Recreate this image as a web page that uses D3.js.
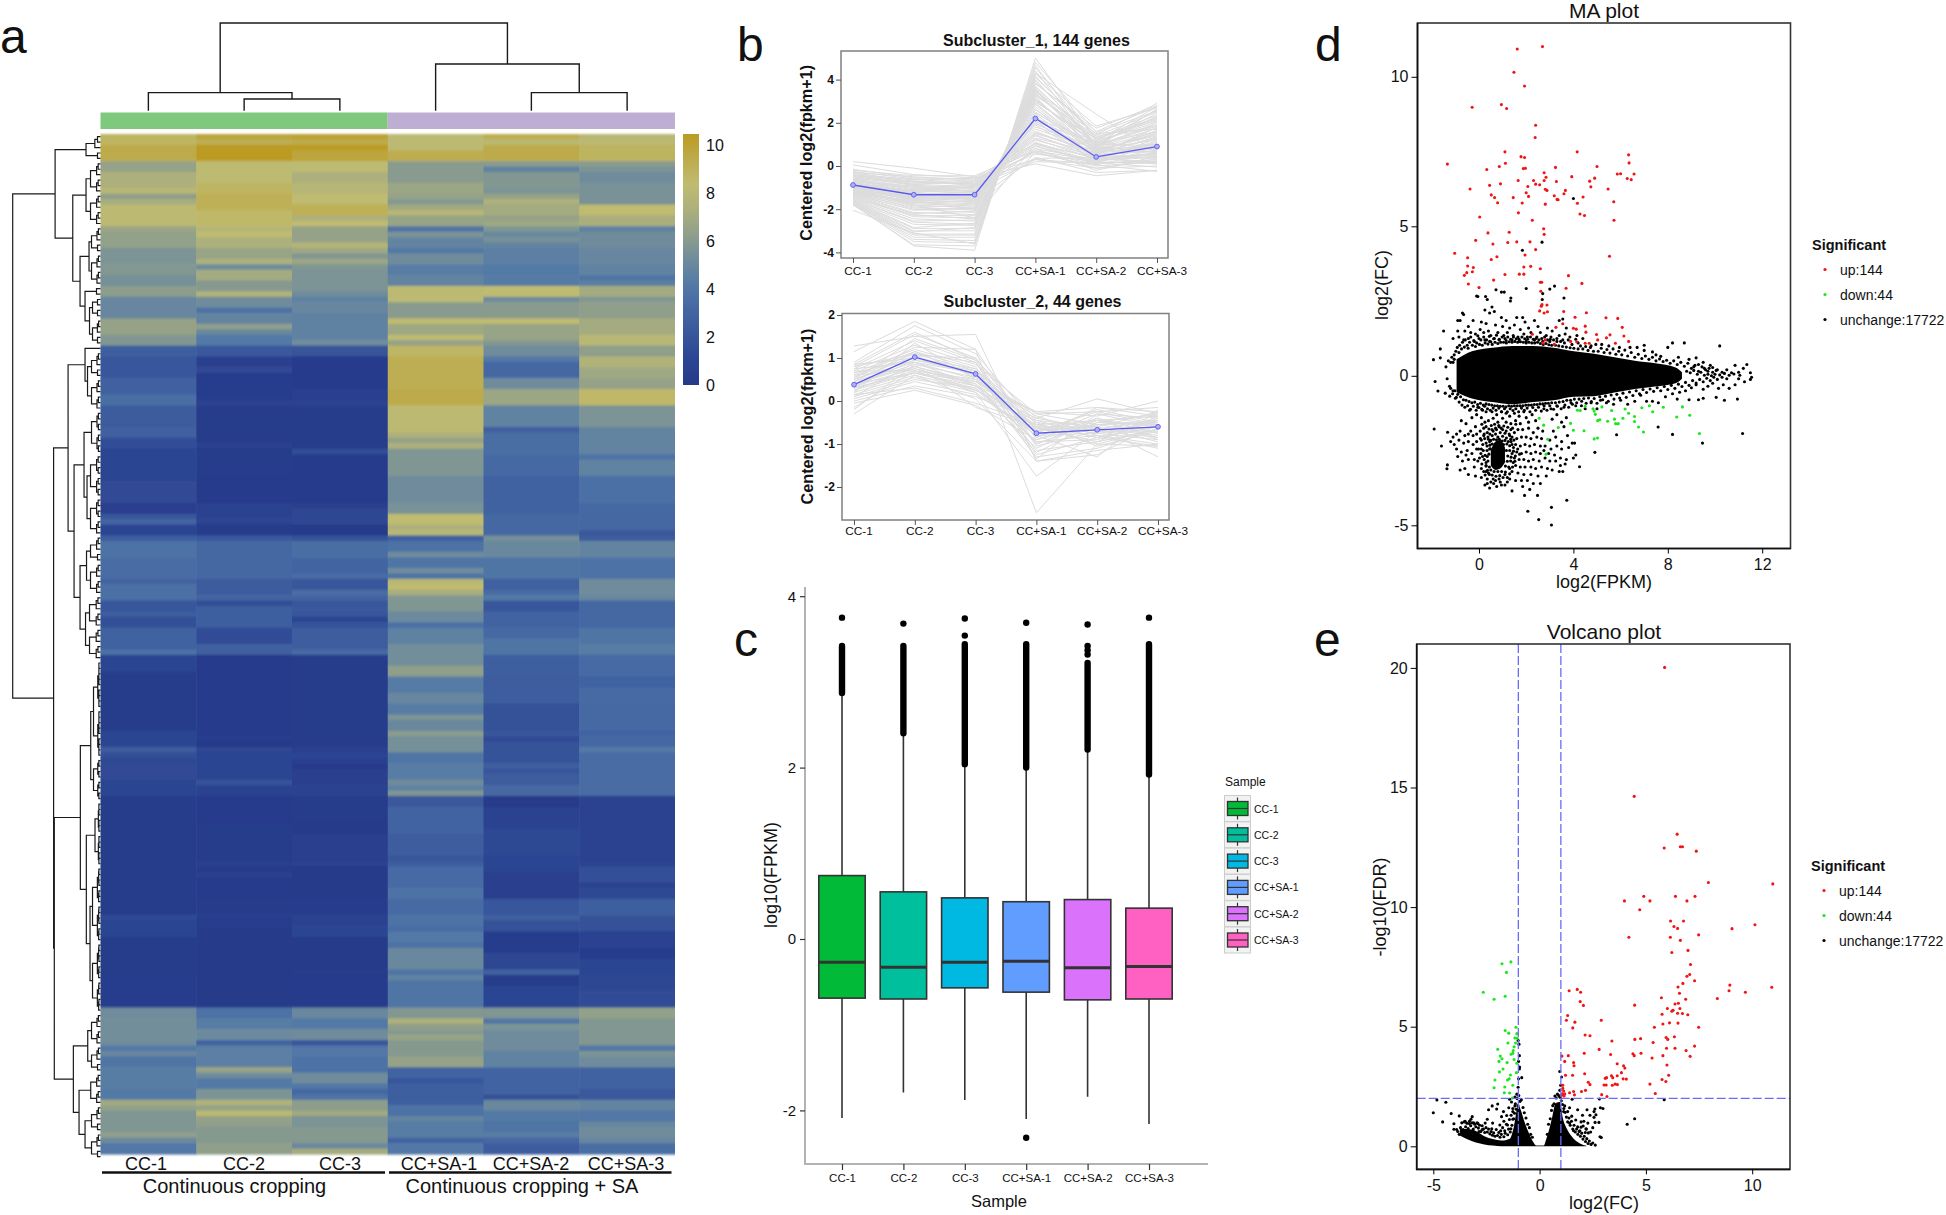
<!DOCTYPE html>
<html><head><meta charset="utf-8">
<script src="https://cdn.jsdelivr.net/npm/d3@7"></script>
<style>html,body{margin:0;padding:0;background:#fff}svg{display:block}text{font-family:"Liberation Sans",Arial,sans-serif;fill:#111}</style>
</head><body><svg id="c" width="1946" height="1215"></svg>
<script>
// ---------- shared categories
const samples = ["CC-1","CC-2","CC-3","CC+SA-1","CC+SA-2","CC+SA-3"];
const groupLabels = ["Continuous cropping","Continuous cropping + SA"];
const legendLabels = ["up:144","down:44","unchange:17722"];
// ---------- a: heatmap, per column [end row (exclusive), value] runs
const rowCount = 188;
const heatCC1 = [2,8.4,5,9,7,6.2,10,7,11,7.6,12,6,13,6.8,17,7.8,18,6.4,21,6.1,24,5.4,26,5.6,28,5.2,30,5.9,34,4.7,37,6.2,39,5.6,41,2.5,45,2,48,2.6,50,3.4,54,2.3,56,2.6,58,1.5,64,1,68,1.3,70,.6,71,2,72,2.8,74,1,75,2.4,78,3.6,82,3.3,83,2.8,86,3.5,88,2,89,2.4,91,1.6,95,2.7,96,3.6,99,1,110,.3,113,1,114,2.3,115,1.6,116,1.2,119,1.3,122,1,144,.2,145,1.2,148,.9,155,.2,161,.4,163,5,167,5.1,168,5,169,4,170,4.7,172,3.7,176,4.2,178,4,179,6.6,180,6.1,184,5.5,185,6,186,4.9,188,3.9];
const heatCC2 = [1,9.3,2,8.8,5,10,9,7.9,11,8.4,14,8.7,17,8.2,18,7.5,19,8,21,7,23,6.3,24,7,25,5,27,6.7,29,5.7,30,7.2,32,5,33,3.6,35,4.6,36,6,37,4.8,39,4,41,2.2,43,.6,44,1.3,49,.4,50,.8,57,.2,58,.5,63,.2,68,.1,70,.7,71,.7,72,1,74,.2,75,2.2,82,3,85,2.3,86,2.8,87,1.5,91,2.5,94,1.4,96,2.6,111,.1,112,.4,113,0,114,1.1,119,.9,120,1.8,122,.7,127,.1,134,.2,135,.5,136,.2,137,.6,141,.1,144,.2,146,.4,161,.05,163,3.6,165,4.2,167,4.9,168,2.8,172,4.3,173,6.3,174,5,176,4,178,5.4,179,7.2,180,6.2,181,7.8,182,6.2,183,6,186,5.7,188,6];
const heatCC3 = [1,9.5,2,9,3,10,5,9.4,7,7.9,9,7,11,7.5,13,8,15,8.7,16,7,17,8,20,6.2,21,7.4,22,6.5,23,5.6,24,6.4,25,5.5,29,5.4,30,5,31,4.4,33,4.7,38,4.4,39,5,41,1.9,47,.1,49,.6,50,.8,58,.2,59,1.5,68,.1,69,.5,72,1.1,74,0,75,1.8,78,3.4,81,2.9,82,3.3,84,2,85,3.3,86,2.8,87,2,88,2.2,89,2,90,1,91,1.8,95,2.4,96,3.2,113,.3,114,.5,115,1,116,.6,117,.1,120,.5,122,.8,127,.2,129,0,134,.5,135,.7,141,.05,144,.4,146,.7,148,1,154,.05,155,.3,161,.1,163,4.8,165,4,167,5,168,2,170,3.9,173,3.6,175,5,176,3.9,177,3,178,3.6,180,5.9,181,6.6,183,5.4,186,5.7,187,4.8,188,6.7];
const heatSA1 = [3,7.8,5,8.9,9,5.8,11,6.4,12,6.2,13,5.7,14,6.6,15,7.5,17,6.3,18,3.8,19,5.4,21,4.6,22,4,24,5,26,4.2,28,4.6,31,7.8,34,5.8,35,8,37,6.5,38,7.9,39,6.2,41,8.3,47,8.8,50,9,55,7.8,56,7,57,6.2,58,7,63,5.5,68,5,70,5.3,72,8,73,7,74,7.6,75,2.6,77,3.6,78,5,80,3.7,81,5,82,3.8,83,7.6,84,8,85,6.8,86,5.6,88,5.5,90,4.9,91,3.5,94,4.4,98,5.1,100,6,103,4.1,105,4.7,107,4.2,108,5.4,110,4.8,111,5.8,114,5.2,116,3.8,119,4.2,120,5,121,4.4,122,5.5,124,2.2,129,2.8,133,2.4,134,2,135,2.4,139,3.2,141,3.6,144,3.2,146,3.6,147,3.3,149,4,150,3.6,154,4.8,155,3.7,156,4.5,161,3.8,163,5.6,164,7,165,6,166,5.7,167,6.3,170,5.7,172,6.2,174,2.8,175,2,179,2.5,181,3.6,182,4.6,185,4.2,186,2.8,188,3.9];
const heatSA2 = [1,8.8,2,7.7,5,9,6,5.8,7,4.5,10,5.6,11,5.4,12,6.2,13,7,15,6.7,16,6.2,17,6.5,18,5.5,19,4.8,20,5.2,21,4.6,24,4.3,26,4,28,4.1,30,8,31,5,34,5.8,35,8,38,6.3,39,5.6,41,5,42,3.9,45,3,47,5,50,6.4,54,4.5,55,2.6,59,3.4,63,3.1,70,2.7,74,3,75,5.2,78,4.8,82,3.8,84,2.6,85,3.2,86,4,88,2,91,2.8,93,3.1,96,3.8,100,2.5,105,2.4,110,1.7,111,2,112,1.3,116,1.8,117,2.5,118,1.9,120,2.3,122,3.1,124,0,128,.7,133,1.2,136,1,141,.5,144,2,145,2.5,147,1.7,151,.4,154,1.1,155,2.6,157,.3,161,1,163,5.5,164,3.9,165,5.4,169,5,172,4.5,177,2.8,178,1.7,180,4.8,182,4,184,3.7,185,4.2,186,3,188,2.4];
const heatSA3 = [1,7.6,2,7.8,5,8.5,6,5.8,7,5.4,9,5,13,5.3,15,8,17,6.9,18,4.4,21,5,24,4.7,26,4.5,27,3.8,28,4.3,30,6.7,31,5.6,34,6,37,6.7,39,7.6,41,6,43,7.2,45,6.5,47,6.2,50,8.2,54,5.4,59,4.6,60,3.6,63,4.5,68,3.5,70,3.1,73,3,74,2.2,75,2.4,78,4.6,82,3.6,85,5,86,4.7,91,3,94,3.8,96,4.2,100,3.2,102,2.7,105,3.2,110,3.1,111,2.8,113,3,114,4,122,3.3,128,.8,134,.7,135,.9,138,1.6,139,.8,141,1.2,144,2.5,147,1.7,150,.7,152,.4,155,.9,158,1.1,161,1.4,163,6.1,168,5.6,169,3.9,170,5.4,172,5,176,2.7,178,2.2,180,4.6,182,3.9,183,4.7,185,5,186,4.7,188,3.4];
const heatColumns = [heatCC1,heatCC2,heatCC3,heatSA1,heatSA2,heatSA3];
const heatTicks = [0,2,4,6,8,10];
const heatStopValues = [0,1,2,3,4,5,6,7,8,9,10];
const heatStopColors = ["#253a8a","#2c4592","#38569b","#4467a3","#5379a6","#6f8c9c","#8f9f8a","#adb07c","#bfbb70","#bdab4c","#bb9b22"];
// dendrogram: [height, childA, childB]; a bare number is a run of that many rows
const rowTree = [88,
  [45.5,[14.5,5],[27.8,[14.5,[10,6],[10,6]],[20.5,[11.5,[9,5],[9,6]],[15.5,[4,2],[11,[8,4],[8,5]]]]]],
  [47,[32.5,[15.5,1,[13,[9,5],[9,6]]],[26.5,[16.5,[9,8],[13.5,[10,8],[10,7]]],[20.5,[14,[10,5],[10,6]],[15,[11,6],[11,6]]]]],
      [46.3,[20.2,[9.8,[7,18],[7,8]],[14.2,[5.5,12],[10.5,[8,14],[8,13]]]],[27.2,[12.8,[9,6],[9,5]],[21.5,[9.8,6],[15.5,[9,5],[9,5]]]]]]];
const colTree = [90,[18.5,0,[12,1,2]],[48,3,[18.5,4,5]]];
// ---------- b: cluster profiles
const clusterMean1 = [-.88,-1.33,-1.33,2.2,.42,.9];
const clusterMean2 = [.38,1.02,.63,-.75,-.67,-.6];
const clusterLines1 = [[.2,-.1,-.5,.3,.1,.3],[.05,-.4,-.55,.1,-.45,-.2],[-.15,-.55,-.6,.55,.2,.1],[-.2,-.45,-.45,.7,.25,.4],[-.25,-.6,-.7,.8,.3,.55],[-.3,-.5,-.65,.95,.1,.3],[-.3,-.75,-.75,.65,-.1,.25],[-.35,-.65,-.55,1.05,.35,.6],[-.4,-.7,-.8,.9,.2,.75],[-.4,-.85,-.7,1.2,.45,.5],[-.45,-.75,-.85,1.1,.15,.2],[-.5,-.8,-.8,1.3,.6,.85],[-.5,-.9,-1,1.05,.05,.65],[-.55,-.85,-.95,1.4,.5,.35],[-.6,-1,-.9,1.5,.7,1],[-.6,-.95,-1.05,1.25,.3,.45],[-.65,-1.1,-1,1.6,.55,.7],[-.65,-1.05,-1.15,1.45,.35,1.15],[-.7,-1.15,-1.1,1.7,.8,.85],[-.7,-1,-1.2,1.9,.25,.55],[-.75,-1.2,-1.15,1.55,.6,1.3],[-.75,-1.25,-1.3,2,.45,.8],[-.8,-1.15,-1.25,1.8,.9,.6],[-.8,-1.3,-1.2,2.1,.15,1],[-.85,-1.25,-1.35,1.95,.75,1.45],[-.85,-1.35,-1.3,2.25,.5,.7],[-.9,-1.3,-1.4,2.4,.4,1.1],[-.9,-1.45,-1.4,2.05,1.05,1.6],[-.95,-1.4,-1.5,2.5,.65,.9],[-.95,-1.5,-1.45,2.3,.3,1.25],[-1,-1.45,-1.55,2.6,.85,1.75],[-1,-1.55,-1.5,2.2,1.15,.75],[-1.05,-1.5,-1.6,2.75,.55,1.35],[-1.05,-1.6,-1.65,2.45,.95,1.9],[-1.1,-1.55,-1.7,2.9,.7,1.5],[-1.1,-1.7,-1.6,2.65,.35,1.05],[-1.15,-1.65,-1.75,3,1.1,2.05],[-1.15,-1.75,-1.85,2.85,.6,1.65],[-1.2,-1.7,-1.8,3.1,.8,1.2],[-1.2,-1.85,-1.9,2.95,1.25,2.2],[-1.25,-1.8,-1.95,3.2,.5,1.8],[-1.25,-1.95,-2,3.05,1,.95],[-1.3,-1.9,-2.05,3.3,1.3,2.35],[-1.3,-2.05,-1.95,3.15,.75,1.4],[-1.35,-2,-2.15,3.4,.9,2],[-1.35,-2.15,-2.25,3.25,1.4,2.5],[-1.4,-2.2,-2.1,3.5,.65,1.55],[-1.4,-2.3,-2.3,3.35,1.1,2.15],[-1.45,-2.35,-2.4,3.6,.85,2.65],[-1.5,-2.25,-2.45,3.45,1.5,1.7],[-1.5,-2.45,-2.55,3.7,1,2.3],[-1.55,-2.55,-2.5,3.55,.6,1.3],[-1.55,-2.6,-2.7,3.85,1.6,2.75],[-1.6,-2.7,-2.75,3.65,1.2,1.9],[-1.6,-2.85,-2.65,4,.95,2.45],[-1.65,-2.9,-2.9,3.8,1.75,2.8],[-1.65,-3,-3,4.15,1.35,2.1],[-1.7,-3.05,-2.85,3.95,1.05,2.6],[-1.7,-3.15,-3.15,4.25,1.85,2.7],[-1.75,-3.2,-3.2,4.4,.8,1.6],[-1.75,-3.3,-3.3,4.1,1.45,2.9],[-1.75,-3.4,-3.45,4.55,1.25,2.25],[-1.8,-3.5,-3.55,4.65,.9,1.85],[-2.05,-3.1,-3.6,4.3,2.4,.6],[-1.8,-3.65,-3.7,4.8,1.55,2.55],[-1.75,-3.7,-3.9,5,1.15,2.75],[-1.1,-1.8,-2.4,1,.4,.1],[-1.3,-1.6,-2,.6,0,.2],[-.8,-1.2,-1.6,.4,-.3,-.2],[-1.2,-1.4,-1.3,.8,-.2,.45],[-.9,-.9,-1.2,.3,-.1,0],[-1,-1.1,-.95,.7,.05,-.25],[-.6,-.7,-.9,.2,.15,-.05],[-.45,-.6,-.85,.35,.4,.15]];
const clusterLines2 = [[1.28,1.5,1.55,-1.4,-1.15,-1],[1.15,1.85,1.2,-.9,-.4,-.75],[.9,1.75,1.1,-.55,-.85,-.6],[.85,1.6,.95,-.4,.05,-.3],[.8,1.55,1,-.7,-.55,-.45],[.75,1.4,.9,-1.05,-.7,-.85],[.7,1.3,.85,-.3,-.25,-.55],[.65,1.2,.8,-1.35,-.3,-.4],[.6,1.15,.75,-.45,-.6,-.95],[.55,1.1,.7,-.85,-.15,-.25],[.5,1.05,.6,-.6,-.95,-.65],[.5,.95,.65,-1,-.45,-.35],[.45,.9,.5,-.35,-.8,-1.1],[.4,.85,.55,-.75,-.2,-.5],[.4,.8,.45,-.5,-1.05,-.7],[.35,.75,.4,-1.2,-.5,-.3],[.3,.7,.5,-.65,-.65,-.8],[.3,.65,.35,-.25,-.35,0],[.25,.65,.3,-.95,-.9,-.45],[.2,.6,.25,-.55,-.75,-.6],[.15,.55,.2,-.8,-1.3,-.2],[.1,.5,.3,-1.1,-.4,-.9],[.05,.45,.15,-.7,-.6,-1.3],[0,.35,.1,-.45,-.85,-.4],[-.05,.25,-.1,-.9,-.55,-.75],[-.15,.7,.2,-1.75,-.7,-.5],[-.2,.85,-.15,-.6,-1,-1.05],[-.3,.6,.05,-1.4,-1.25,-.55],[.55,1.25,1.2,-2.6,-1,-.65],[.65,1,.75,-.65,-.45,-.85],[.75,.9,.65,-1.15,-.95,-.35],[.85,1,.6,-.85,-.3,-.6],[.35,.95,.7,-.5,-.7,-.7],[.45,1.15,.55,-.3,-.55,-.5],[.25,.8,.4,-.7,-.25,-.15],[.6,.75,.35,-.95,-.8,-1],[.7,.7,.25,-.4,-.65,-.45],[.2,1.35,.5,-1.3,-1.1,-.65],[.1,.9,.35,-.6,-.6,-.25],[.5,1.45,.95,-1,-.5,-.55],[.3,1.05,1,-.8,-.75,-.9],[.4,.65,.45,-.25,-.15,-.35],[.8,1.1,.9,-1.25,-.85,-1.05],[.15,.3,-.05,-.55,-.45,-.6]];
const profileTicks1 = [-4,-2,0,2,4];
const profileTicks2 = [-2,-1,0,1,2];
const profileYLabel = "Centered log2(fpkm+1)";
// ---------- c: boxplots
const boxColors = ["#00ba38","#00bf9c","#00b9e3","#619cff","#db72fb","#ff61c3"];
const boxQ3 = [.74,.55,.48,.435,.46,.36];
const boxMedian = [-.27,-.33,-.27,-.26,-.335,-.32];
const boxQ1 = [-.69,-.7,-.57,-.62,-.71,-.7];
const whiskerHigh = [2.87,2.4,2.04,2,2.21,1.92];
const whiskerLow = [-2.09,-1.79,-1.88,-2.1,-1.84,-2.16];
const outlierBandTop = [3.42,3.42,3.44,3.44,3.22,3.44];
const outlierExtra = [[0,3.75],[1,3.68],[2,3.74],[2,3.54],[3,3.69],[3,-2.32],[4,3.67],[4,3.42],[4,3.37],[4,3.32],[5,3.75]];
const boxTicks = [-2,0,2,4];
// ---------- d: MA plot
const maTicksX = [0,4,8,12], maTicksY = [-5,0,5,10];
const maUp = [1.62,10.93,2.69,11.01,1.48,10.15,1.93,9.69,-.29,8.98,.95,9.07,1.17,8.94,2.4,8.38,2.38,7.97,-1.34,7.08,1.1,7.49,1.12,7.11,.86,7,.33,6.9,1.78,7.33,1.93,7.3,1.88,6.93,1.97,6.94,4.16,7.49,6.34,7.39,6.36,7.12,5,7,3.24,6.97,2.76,6.79,2.84,6.64,2.76,6.53,2.31,6.53,1.66,6.53,.45,6.37,-.38,6.25,.91,6.42,2.07,6.33,2.4,6.41,2.57,6.39,2.81,6.24,2.88,6.2,3.28,6.5,3.93,6.66,4.69,6.51,4.9,6.61,4.74,6.32,5.86,6.75,6,6.76,6.28,6.6,6.45,6.56,6.57,6.75,5.47,6.25,3.66,6.2,3.6,6.09,3.19,6.02,3.31,5.9,3.35,5.89,4.41,5.98,4.17,5.77,2.81,5.74,1.83,5.78,2,6.12,2.1,6,.52,6.05,.66,5.96,.79,5.79,1.45,5.96,5.71,5.82,1.67,5.45,4.28,5.41,4.47,5.36,.03,5.31,2.26,5.2,5.72,5.2,2.74,4.92,2.76,4.73,.38,4.78,1.28,4.8,-.14,4.53,.59,4.41,1.22,4.46,1.6,4.48,2.16,4.48,2.4,4.22,-1.03,4.1,1.95,4.04,5.53,4,-.48,3.95,.76,3.98,.52,3.89,-.48,3.67,-.24,3.62,-.28,3.48,-.62,3.36,-.52,3.45,1.1,3.39,1.71,3.4,1.9,3.4,1.9,3.64,2.19,3.66,2.6,3.58,.62,3.2,3.79,3.35,4.36,3.09,-.45,3.07,0,2.95,2.6,3.13,2.66,3.13,3.69,2.93,2.62,2.83,2.67,2.38,2.64,2.33,2.88,2.37,2.57,2.17,2.76,2.1,2.9,2.14,3.59,2.15,4.55,2.11,5.38,1.94,5.88,1.92,4.07,1.96,6.07,1.62,4.5,1.66,3.55,1.74,3.26,1.62,4,1.59,4.12,1.56,4.53,1.46,4.98,1.38,5.55,1.37,5.4,1.27,6.14,1.33,5.03,1.2,6.34,1.15,2.26,1.39,2.81,1.2,2.72,1.1,3.19,1.05,3.88,1.15,4.14,1.14,4.5,1.09,4.67,1.09,5.78,1.09];
const maDown = [2.55,-1.42,2.74,-1.65,3.36,-1.73,3.88,-1.59,4,-1.82,2.91,-2.12,2.84,-2.62,4.45,-1.84,4.17,-1.15,4.29,-1.16,4.5,-1.02,4.83,-1.1,4.88,-1.18,4.93,-1.29,5.21,-1.04,5.62,-1.16,5.03,-1.5,5.12,-1.47,5.45,-1.52,5.74,-1.45,5.79,-1.6,5.9,-1.6,6.1,-1.42,6.19,-1.11,6.34,-1.25,6.59,-1.36,6.59,-1.53,6.76,-1.71,6.97,-1.88,6.9,-1.07,7.22,-1,7.36,-1.2,7.81,-1.05,8.62,-1.04,8.38,-1.38,8.93,-1.32,9.34,-1.93,4.88,-2.11,5.02,-2.08];
const maCoreX = [-.95,-.3,.57,1.43,2.3,3.16,4.02,4.88,5.74,6.6,7.47,8.33,8.6];
const maCoreTop = [.55,.82,.94,1,1,.94,.82,.74,.62,.5,.42,.28,.12];
const maCoreBottom = [-.55,-.76,-.88,-.95,-.88,-.82,-.7,-.68,-.56,-.44,-.36,-.25,-.1];
const maClusterX = [.5,.7,.9,1.1];
const maClusterTop = [-2.5,-2.2,-2.15,-2.4];
const maClusterBottom = [-3,-3.15,-3.1,-2.9];
const maOther = [4,5.93,2.67,4.47,1.84,4.2,2,2.92,.72,2.88,.95,2.8,1.07,2.8,-.1,2.67,-.05,2.65,.28,2.65,.35,2.55,1.35,2.6,1.33,2.5,2.68,2.55,3,2.9,3.2,3,3.6,2.6,2.7,2.75,.25,2.2,.55,2.3,.45,2.1,.65,2.15,-.7,2.1,-.65,2.05,.95,1.95,1.15,1.85,1.6,1.95,1.85,1.95,1.95,1.8,2.35,1.85,-.9,1.85,-.8,1.85,-.45,1.65,-.9,1.5,-1.5,1.5,-.25,1.85,.1,1.8,.3,1.75,.7,1.7,1,1.65,1.3,1.6,1.5,1.7,1.75,1.55,2.1,1.6,2.5,1.65,2.9,1.6,3.1,1.5,3.4,1.85,3.55,1.9,3.7,1.6,-.6,1.5,-.35,1.45,-.15,1.4,.05,1.55,.2,1.45,.4,1.5,.5,1.35,.8,1.45,1.05,1.35,1.2,1.45,1.45,1.35,1.65,1.3,1.9,1.4,2.05,1.3,2.2,1.45,2.45,1.3,2.6,1.45,2.85,1.35,3.05,1.3,3.4,1.35,3.65,1.4,3.85,1.3,4.15,1.35,4.4,1.25,-1.1,1.25,-.85,1.3,-.65,1.2,-.45,1.25,-.2,1.15,0,1.25,.25,1.2,.45,1.15,.65,1.25,.85,1.2,1.15,1.18,1.4,1.2,1.7,1.15,2,1.15,2.35,1.2,2.7,1.15,3,1.15,3.3,1.15,3.55,1.2,4.2,1.1,4.75,1,5.2,1.05,5.5,1,5.95,.95,6.4,.95,6.7,.95,7,.85,7,1.02,7.5,.7,7.35,.8,7.7,.65,8,.95,8.2,1.1,8.7,1.1,8.45,.62,8.9,.55,9.2,.6,9.5,.45,9.8,.35,10.2,1,9.3,.38,9.1,.3,9.55,.25,9.7,.15,9.9,.28,10.1,.2,10.3,.12,10.5,.2,10.7,.1,10.85,.35,11,.12,11.2,.25,11.35,.38,11.5,.1,11.55,-.05,11.5,-.12,11.25,-.2,11,-.1,10.85,-.3,10.6,-.42,10.35,-.3,10.15,-.42,9.9,-.25,9.7,-.35,9.5,-.45,9.2,-.3,9,-.4,8.75,-.5,8.5,-.55,8.2,-.6,8.4,-.78,8.9,-.8,9.3,-.8,9.5,-.75,10.05,-.72,10.4,-.82,10.95,-.78,7.9,-.7,7.6,-.9,7.35,-.85,7.1,-.85,6.85,-.65,6.6,-.85,6.3,-.95,6,-.82,5.7,-.95,5.4,-.9,5.15,-.82,5,-1.1,4.75,-.9,4.5,-1.1,4.35,-.85,4.1,-1,3.9,-.9,3.6,-1.05,3.3,-1,3.05,-1.1,2.75,-1.1,-1.93,.54,-1.64,.9,-1.64,.6,-1.86,-.19,-1.74,-.51,-1.43,-.58,-1.24,-.68,-1.4,.3,-1.3,.5,-1.35,-.1,-1.25,-.35,-1.1,.45,-1.05,.7,-1.1,-.5,-1,-.75,5.83,-1.97,8.2,-1.96,11.17,-1.93,9.47,-2.25,7.59,-1.71,4.91,-2.56,4.26,-3.04,3.72,-4.16,3.07,-4.4,2.07,-4.53,2.53,-4.81,3.07,-4.99,1.93,-4,2.48,-4,-1.9,-1.78,-1.33,-1.89,-1.59,-2.35,-1.36,-3.11,-1.34,-2.98,-.4,-1.15,-.3,-1.4,-.55,-1.6,-.75,-1.5,-.1,-1.3,-.15,-1.7,-.35,-1.85,-.05,-1.05,.1,-1.4,.15,-1.15,.3,-1.2,.25,-1.55,.4,-1.5,.55,-1.2,.6,-1.42,.75,-1.3,.8,-1.55,.95,-1.2,1,-1.42,1.15,-1.25,1.15,-1.55,1.3,-1.35,1.35,-1.6,1.5,-1.25,1.55,-1.5,1.7,-1.35,1.75,-1.6,1.9,-1.2,2,-1.4,2.1,-1.55,2.25,-1.3,2.4,-1.5,3.1,-1.45,3.3,-1.3,3.5,-1.55,3.7,-1.4,3.6,-1.7,3.15,-1.85,2.7,-1.85,2.5,-1.75,2.3,-1.9,2.1,-1.75,1.85,-1.8,1.65,-1.8,1.5,-1.9,1.35,-1.8,.2,-1.75,.05,-1.85,-.1,-1.95,-.25,-2,-.45,-1.95,-.6,-2,-.8,-1.85,-.95,-1.95,-1.1,-2.05,-1.2,-2.2,-1.05,-2.3,-.85,-2.15,-.65,-2.25,-.45,-2.2,-.25,-2.3,-.1,-2.2,.1,-2.15,.2,-2,.35,-1.9,.3,-2.25,1.4,-2.05,1.6,-2.1,1.8,-2.05,2,-2.05,2.2,-2.1,2.45,-2.05,2.65,-2.1,3,-2.15,3.25,-2.05,3.5,-2.2,3.75,-2,3.95,-2.25,4.05,-2.25,3.8,-2.4,3.5,-2.45,3.3,-2.35,3.05,-2.45,2.8,-2.35,2.6,-2.35,2.35,-2.3,2.15,-2.35,1.95,-2.3,1.75,-2.35,1.55,-2.3,1.6,-2.55,1.8,-2.6,2,-2.55,2.2,-2.6,2.4,-2.55,2.6,-2.6,2.75,-2.5,2.95,-2.6,3.2,-2.65,3.45,-2.75,3.7,-2.8,4,-2.75,4.1,-2.65,3.65,-2.95,3.45,-3,3.25,-2.85,3,-2.85,2.8,-2.75,2.55,-2.85,2.3,-2.8,2.1,-2.85,1.9,-2.8,1.7,-2.8,1.5,-2.75,1.55,-3,1.75,-3.05,1.95,-3.05,2.2,-3.05,2.4,-3.1,2.65,-3.05,2.9,-3.1,3.1,-3.15,3.4,-3.2,3.55,-3.2,2.85,-3.35,2.5,-3.35,2.2,-3.3,1.9,-3.3,1.65,-3.25,1.4,-3.2,1.3,-3.45,1.55,-3.5,1.8,-3.5,2.05,-3.5,2.3,-3.6,2.6,-3.6,2.15,-3.8,1.85,-3.7,1.4,-3.85,1.1,-3.65,.9,-3.55,.75,-3.7,.45,-3.75,.25,-3.65,.35,-3.45,.1,-3.4,-.15,-3.35,-.45,-3.3,-.6,-3.1,-.8,-3.15,-.7,-2.85,-.9,-2.7,-.75,-2.55,-.5,-2.5,-.3,-2.6,-.1,-2.45,.1,-2.45,-.2,-2.8,-.45,-2.8,-.2,-3.05,-.05,-2.85,.15,-2.7,.3,-2.9,.1,-3.1,.3,-3.2,-.55,-2.65,-.95,-2.45,.45,-2.2,.55,-1.8,.7,-1.75,.85,-1.7,1,-1.8,1.15,-1.85,1.3,-2,1.4,-2.3,1.4,-2.6,1.45,-2.9,1.3,-3.1,1.1,-3.3,.85,-3.45,.6,-3.45,.4,-3.25,.3,-3,.35,-2.7,.45,-2.45];
const maEdgeTop = [-1.2,.45,-1.15,.62,-1.05,.55,-.98,.82,-.92,.95,-.85,.78,-.82,1.02,-.74,.9,-.7,1.12,-.62,.96,-.58,1.2,-.5,1.02,-.46,.92,-.4,1.12,-.35,1.3,-.28,1.02,-.22,1.18,-.15,.98,-.1,1.1,-.05,1.34,.02,1.05,.08,1.2,.14,1.02,.2,1.3,.26,1.1,.32,1.2,.38,1.06,.44,1.32,.5,1.14,.56,1.05,.62,1.24,.68,1.12,.74,1.36,.8,1.08,.86,1.22,.92,1.12,.98,1.3,1.04,1.12,1.1,1.25,1.16,1.1,1.22,1.3,1.28,1.14,1.34,1.22,1.4,1.12,1.46,1.3,1.52,1.15,1.58,1.24,1.64,1.12,1.7,1.22,1.76,1.14,1.82,1.3,1.88,1.12,1.94,1.24,2,1.1,2.06,1.22,2.12,1.12,2.18,1.3,2.24,1.1,2.3,1.22,2.36,1.1,2.42,1.25,2.48,1.12,2.54,1.2,2.6,1.08,2.66,1.25,2.72,1.05,2.78,1.3,2.84,1.08,2.9,1.2,2.96,1.04,3.02,1.22,3.08,1.02,3.16,1.2,3.24,1.02,3.3,1.25,3.38,1,3.46,1.15,3.54,.98,3.62,1.1,3.7,.96,3.78,1.2,3.86,.94,3.94,1.05,4.02,.92,4.1,1.22,4.2,.9,4.3,1,4.4,.9,4.52,.98,4.62,.85,4.72,.95,4.85,.82,4.95,1.05,5.05,.82,5.18,.92,5.3,.78,5.42,.88,5.55,.76,5.68,.9,5.8,.72,5.92,.82,6.05,.7,6.18,.86,6.3,.66,6.45,.78,6.6,.62,6.75,.72,6.9,.58,7.05,.66,7.2,.55,7.35,.62,7.5,.5,7.65,.56,7.8,.48,7.95,.52,8.1,.42,8.25,.5,8.4,.38,8.55,.45,8.7,.32,8.85,.42,9,.25,9.15,.35,9.3,.15,9.45,.3,9.6,.2,9.75,.25,9.9,.12,10.05,.18,8.8,.15,8.95,.1,9.1,.18,9.25,.05,9.4,.12,9.55,.02,9.7,.05,9.85,0,10,.05,10.2,.03,10.4,.08,10.6,.02,10.8,.06,11.05,.02];
const maEdgeBottom = [-1.2,-.42,-1.12,-.6,-1.02,-.5,-.96,-.72,-.9,-.62,-.84,-.88,-.78,-.7,-.72,-.98,-.66,-.8,-.6,-1.05,-.55,-.82,-.48,-1,-.42,-.86,-.36,-1.12,-.3,-.9,-.24,-1.02,-.18,-.88,-.12,-1.15,-.06,-.96,0,-1.06,.06,-.92,.12,-1.12,.18,-.98,.24,-1.02,.3,-.94,.36,-1.1,.42,-.96,.48,-1.15,.54,-.98,.6,-1.08,.66,-1,.72,-1.15,.78,-1,.84,-1.08,.9,-1.02,.96,-1.2,1.02,-1.02,1.08,-1.1,1.14,-1.04,1.2,-1.2,1.26,-1,1.32,-1.1,1.38,-1.02,1.44,-1.16,1.5,-1,1.56,-1.1,1.62,-1,1.68,-1.2,1.74,-1,1.8,-1.08,1.86,-1,1.92,-1.15,1.98,-.98,2.04,-1.08,2.1,-.98,2.16,-1.2,2.22,-.98,2.28,-1.06,2.34,-.96,2.4,-1.15,2.46,-.96,2.52,-1.05,2.58,-.94,2.64,-1.18,2.7,-.94,2.76,-1,2.82,-.92,2.88,-1.15,2.94,-.92,3,-1,3.08,-.9,3.16,-1.12,3.24,-.9,3.32,-1.02,3.4,-.88,3.48,-1.1,3.56,-.86,3.64,-.98,3.72,-.82,3.8,-1.05,3.88,-.82,3.96,-.95,4.04,-.78,4.14,-.9,4.24,-.78,4.34,-1,4.44,-.76,4.54,-.92,4.64,-.74,4.76,-.86,4.88,-.76,5,-.92,5.12,-.7,5.24,-.8,5.36,-.68,5.48,-.85,5.6,-.64,5.72,-.78,5.84,-.62,5.96,-.74,6.1,-.58,6.24,-.72,6.38,-.54,6.52,-.66,6.66,-.5,6.8,-.6,6.95,-.46,7.1,-.56,7.25,-.44,7.4,-.52,7.55,-.4,7.7,-.5,7.85,-.36,8,-.46,8.15,-.32,8.3,-.42,8.45,-.28,8.6,-.36,8.75,-.22,8.9,-.32,9.05,-.16,9.2,-.24,9.35,-.12,9.5,-.2,9.65,-.08,9.8,-.16,9.95,-.05,10.1,-.12,10.3,-.05,10.5,-.1];
const maLowerCore = [.12,-1.62,.22,-1.95,.3,-1.7,.38,-2.05,.42,-1.78,.46,-1.95,.52,-1.66,.56,-2,.6,-1.85,.66,-1.62,.7,-1.95,.74,-1.8,.8,-2.05,.84,-1.66,.9,-1.9,.94,-1.75,1,-2.02,1.05,-1.68,1.1,-1.92,1.16,-2.08,1.22,-1.72,1.28,-1.95,1.34,-2.12,1.42,-1.75,1.48,-2.15,1.56,-1.62,.06,-2.1,.16,-2.3,.24,-2.1,.34,-2.35,.4,-2.12,.46,-2.32,.5,-2.16,.56,-2.28,.62,-2.12,.68,-2.3,.74,-2.14,.8,-2.26,.86,-2.12,.92,-2.32,.98,-2.18,1.04,-2.3,1.1,-2.16,1.18,-2.28,1.24,-2.2,1.3,-2.34,1.36,-2.2,1.46,-2.4,-.02,-2.45,.08,-2.6,.18,-2.5,.26,-2.66,.34,-2.5,.42,-2.62,.48,-2.44,1.16,-2.5,1.22,-2.68,1.3,-2.5,1.36,-2.72,1.46,-2.52,1.54,-2.68,1.64,-2.45,1.72,-2.62,.02,-2.75,.12,-2.95,.22,-2.8,.3,-3.02,.38,-2.85,.44,-3.05,1.12,-3.02,1.2,-2.86,1.26,-3.05,1.34,-2.85,1.42,-3.05,1.52,-2.86,.2,-3.2,.26,-3.32,.36,-3.16,.44,-3.3,.5,-3.15,.56,-3.32,.64,-3.2,.72,-3.36,.8,-3.2,.88,-3.34,.96,-3.2,1.02,-3.4,1.12,-3.22,1.2,-3.4,1.3,-3.28,.5,-3.55,.62,-3.6,.7,-3.5,.95,-3.65,1.2,-3.55,.35,-3.6];
// ---------- e: volcano plot
const voTicksX = [-5,0,5,10], voTicksY = [0,5,10,15,20];
const voUp = [5.88,20.02,4.45,14.63,6.47,13.05,5.86,12.47,6.62,12.52,6.72,12.52,7.37,12.34,7.94,11.03,10.97,10.97,3.99,10.26,4.9,10.45,5.19,10.26,6.39,10.45,6.93,10.26,7.31,10.45,4.71,9.89,6.16,9.42,6.77,9.42,6.32,9.19,6.49,9.11,10.13,9.26,9.05,9.1,4.2,8.74,6.15,8.74,7.48,8.84,6.62,8.61,6.22,8.1,6.98,8.19,7.1,7.6,7.06,7.18,6.93,7.11,7.29,6.92,6.74,6.81,6.51,6.66,8.95,6.74,8.91,6.5,9.68,6.44,10.92,6.65,8.36,6.18,1.77,6.56,1.93,6.44,1.39,6.5,6.58,6.4,5.73,6.21,6.87,6.15,1.91,6.05,2.06,5.89,4.47,5.9,6.37,5.95,6.53,5.98,6.01,5.76,6.6,5.76,6.28,5.69,6.22,5.65,5.76,5.52,6.49,5.56,6.72,5.55,6.97,5.5,1.32,5.47,2.9,5.27,1.26,5.27,1.66,5.19,5.8,5.11,6.11,5.16,6.51,5.15,1.56,4.95,5.4,4.98,7.48,4.98,2.14,4.65,2.37,4.62,4.48,4.47,4.75,4.5,3.4,4.4,5.95,4.55,6.03,4.47,6.34,4.58,5.34,4.34,7.29,4.19,5.97,4.1,6.37,4.1,6.89,4,2.8,4.05,2.1,3.89,3.34,3.84,4.39,3.87,4.45,3.79,4.77,3.89,5.8,3.79,7.08,3.76,5.29,3.69,1.05,3.77,1.35,3.79,1.18,3.55,1.6,3.5,1.62,3.37,3.65,3.45,3.95,3.37,4.01,3.27,5.99,3.4,3.85,3.08,2.12,3.03,6.07,2.97,1.22,2.97,1.55,2.97,3.38,2.95,3.44,2.87,3.09,2.84,3.15,2.87,3.93,2.82,4.08,2.81,3.65,2.95,5.76,2.79,5.94,2.71,2.29,2.68,2.37,2.58,5.19,2.6,3.03,2.56,3.13,2.56,3.42,2.55,3.55,2.6,3.66,2.58,1.09,2.55,2.16,2.34,1.97,2.29,5.44,2.21,1.09,2.42,1.13,2.31,1.07,2.19,1.41,2.24,1.6,2.29,1.64,2.15,1.18,2.19,2.92,2.16,3.17,2.08,1.03,2.13,1.15,2.1];
const voDown = [-2.65,6.44,-2.14,6.15,-1.62,6.27,-1.77,7.63,-1.35,7.71,-1.56,7.27,-1.11,4.98,-1.62,4.84,-1.45,4.73,-1.07,4.71,-1.16,4.53,-1.05,4.52,-1.49,4.32,-1.13,4.32,-1.2,4.16,-1.97,4.06,-1.24,4,-1.26,3.89,-1.34,3.85,-1.85,3.77,-1.77,3.66,-1.91,3.55,-1.53,3.5,-1.2,3.63,-1.07,3.47,-1.72,3.23,-1.89,3.11,-1.09,3.08,-1.37,2.98,-1.51,2.77,-1.43,2.82,-2.1,2.77,-1.26,2.55,-2.14,2.45,-1.64,2.48,-1.66,2.24,-1.41,2.23,-1.28,2.02];
const voOther = [-4.83,1.94,-4.41,1.84,-5,1.4,-4.16,1.37,-4.56,1.02,-3.78,1.27,-4.03,.94,-4.03,.71,-3.9,.7,-3.17,1.24,-3.23,1.13,-2.4,1.53,-2.23,1.69,-1.97,1.77,-2.02,1.56,-1.7,1.45,-1.79,1.24,-2.46,1.13,-2.56,.97,-2.21,.97,-2.25,.73,-1.87,.89,-1.68,1.05,-1.55,1.29,-1.45,1.61,-1.32,1.85,-1.41,1.97,-1.16,2.06,-1.26,1.45,-1.51,.89,-1.35,.73,-1.83,.65,-1.64,.65,-1.26,1.13,-1.16,1.69,-1.07,2.18,-1.01,2.47,-.99,2.82,-.84,2.87,-.94,3.31,-.99,3.55,-.95,3.79,-1.01,4.42,-.97,4.27,-.95,3.23,.95,3.13,1.03,2.9,.99,2.55,.95,2.34,1.53,1.97,2.81,1.98,5.86,1.95,1.18,1.69,1.41,1.61,1.79,1.53,2.23,1.53,2.6,1.56,2.86,1.61,2.98,1.58,2.56,1.45,2.65,1.32,2.56,1.21,2.79,1,2.61,1,2.08,1.05,1.95,1.02,1.7,1.1,1.51,1.26,1.41,.97,1.79,.81,2.18,.73,2.29,.56,1.89,.65,1.6,.65,2.84,.4,2.9,.37,1.32,1.45,1.13,1.45,1.6,.16,1.51,.08,4.12,.92,4.47,1.15,1.95,.8,2.02,1.3,2.37,1.3,2.27,.97,-3.5,1.05,-3.3,.95,-3.1,.98,-2.9,.95,-2.7,.7,-2.85,.62];
const voEdge = [-3.85,.62,-3.78,.5,-3.72,.78,-3.66,.98,-3.6,.7,-3.55,1.02,-3.48,.82,-3.42,.96,-3.36,.74,-3.3,1.05,-3.24,.86,-3.18,.98,-3.12,.72,-3.05,.92,-3,.82,-2.94,.98,-2.88,.76,-2.82,.88,-2.76,.62,-2.7,.86,-2.64,.72,-2.58,.58,-2.52,.78,-2.46,.6,-2.4,.72,-2.34,.52,-2.28,.62,-2.22,.46,-2.16,.56,-2.1,.42,-2.04,.7,-1.98,.45,-1.92,.58,-1.86,.38,-1.8,.5,-1.74,.78,-1.68,.4,-1.62,.55,-1.56,.92,-1.5,.48,-1.46,.72,-1.42,1.12,-1.38,.6,-1.34,1.3,-1.3,.88,-1.26,1.58,-1.22,1.15,-1.18,1.38,-1.14,1.78,-1.1,1.55,-1.06,2,-1.02,1.7,-.98,2.12,-.92,1.88,-.86,1.95,-.78,1.62,-.72,1.4,-.64,1.18,-.56,.92,-.48,.78,-.42,.5,-.34,.38,.36,.5,.42,.92,.5,1.15,.56,1.5,.62,1.7,.68,1.78,.72,2.1,.78,2.02,.84,2.18,.9,2.12,.96,2.05,1.02,1.9,1.08,1.75,1.14,1.58,1.2,1.42,1.26,1.22,1.32,1.02,1.38,1.18,1.44,.88,1.5,1.05,1.56,.72,1.62,.88,1.68,.6,1.74,.72,1.8,.5,1.86,.62,1.92,.42,1.98,.55,2.04,.3,2.1,.42,2.16,.2,2.22,.32,2.28,.12,2.34,.22,2.42,.08,2.5,.14,2.62,.05,2.05,.85,2.2,.72,2.4,.6,2.5,.78,2.15,.58];
const voCoreX = [-3.75,-3.4,-3,-2.6,-2.2,-1.8,-1.4,-1.2,-1,-.9,-.7,-.5,-.3,-.15,.2,.3,.45,.6,.75,.95,1.1,1.3,1.6,1.9,2.2];
const voCoreTop = [.72,.72,.64,.42,.3,.24,.32,.85,1.75,1.55,1,.55,.18,.03,.03,.26,.7,1.25,1.8,1.85,1.15,.7,.32,.12,.02];
const voCoreBottom = [.45,.29,.16,.08,.03,0,0,0,0,0,0,0,0,0,0,0,0,0,0,0,0,0,0,0,0];
const voCutX = [-1,1], voCutY = [2];

// ---------- drawing
const svg = d3.select("#c");
function text(g,x,y,s,o={}){const t=g.append("text").attr("x",x).attr("y",y).text(s)
  .attr("font-size",o.size||14).attr("text-anchor",o.anchor||"middle").attr("dominant-baseline",o.base||"central");
  if(o.bold)t.attr("font-weight","bold"); if(o.rot!=null)t.attr("transform",`rotate(${o.rot},${x},${y})`); return t;}
function pairs(a){const r=[];for(let i=0;i<a.length;i+=2)r.push([a[i],a[i+1]]);return r;}
const plain = d => String(d);

// panel letters
[["a",0,53],["b",737,61],["c",734,656],["d",1315,61],["e",1314,656]].forEach(d=>text(svg,d[1],d[2],d[0],{size:48,anchor:"start",base:"auto"}));

// === a ===
const defs=svg.append("defs");
defs.append("filter").attr("id","soft").attr("x",0).attr("y",-.01).attr("width",1).attr("height",1.02)
  .append("feGaussianBlur").attr("stdDeviation","0.5 1.1");
const hg = svg.append("g");
const heatX = d3.scaleBand(samples,[100.5,675]);
const heatY = d3.scaleLinear([0,rowCount],[134,1154]);
const heatColor = d3.scaleLinear(heatStopValues,heatStopColors).interpolate(d3.interpolateRgb);
const cells = hg.append("g").attr("filter","url(#soft)");
heatColumns.forEach((col,ci)=>{
  const runs = pairs(col).map((d,i,a)=>({start:i?a[i-1][0]:0,end:d[0],v:d[1]}));
  cells.append("g").selectAll("rect").data(runs).join("rect")
    .attr("x",heatX(samples[ci])).attr("width",heatX.bandwidth()+(ci<5?.6:0))
    .attr("y",d=>heatY(d.start)).attr("height",d=>heatY(d.end)-heatY(d.start)+.6)
    .attr("fill",d=>heatColor(d.v));
});
// annotation bar
const groupColor=["#7fc97f","#beaed4"];
hg.append("rect").attr("x",heatX(samples[0])).attr("y",112.5).attr("width",heatX.bandwidth()*3).attr("height",16.5).attr("fill",groupColor[0]);
hg.append("rect").attr("x",heatX(samples[3])).attr("y",112.5).attr("width",heatX.bandwidth()*3).attr("height",16.5).attr("fill",groupColor[1]);
// colour bar
const grad=defs.append("linearGradient").attr("id","hg").attr("x1",0).attr("x2",0).attr("y1",1).attr("y2",0);
heatStopValues.forEach((v,i)=>grad.append("stop").attr("offset",v/10).attr("stop-color",heatStopColors[i]));
const barY=d3.scaleLinear([0,10],[385,145]);
hg.append("rect").attr("x",683).attr("y",134).attr("width",16).attr("height",251).attr("fill","url(#hg)");
heatTicks.forEach(t=>text(hg,706,barY(t),t,{size:16,anchor:"start"}));
// dendrograms
function layoutTree(n,state,hStart){
  if(typeof n==="number"){ if(n===1){const p=state.i++;return{pos:p+.5,h:0,kids:[]};}
    const a=Math.ceil(n/2),b=n-a,h=Math.max(1.6,(hStart||8)*.66);
    const ka=layoutTree(a,state,h*.9),kb=layoutTree(b,state,h*.9);
    return{pos:(ka.pos+kb.pos)/2,h:a+b===2?Math.min(h,3):h,kids:[ka,kb]};}
  const h=n[0];
  if(n.length===2){const inner=layoutTree(n[1],state,h);inner.h=h;return inner;}
  const ka=layoutTree(n[1],state,h),kb=layoutTree(n[2],state,h);
  return{pos:(ka.pos+kb.pos)/2,h,kids:[ka,kb]};
}
function drawTree(node,X,Y,path){
  if(node.kids.length){const[a,b]=node.kids;
    path.push(`M${X(a.h)},${Y(a.pos)}L${X(node.h)},${Y(a.pos)}L${X(node.h)},${Y(b.pos)}L${X(b.h)},${Y(b.pos)}`);
    drawTree(a,X,Y,path);drawTree(b,X,Y,path);}
}
{const st={i:0},root=layoutTree(rowTree,st),p=[];
 const X=d3.scaleLinear([0,88],[100.5,12.7]);
 drawTree(root,X,heatY,p);
 hg.append("path").attr("d",p.join("")).attr("fill","none").attr("stroke","#1a1a1a").attr("stroke-width",1.2);}
{const colPos=d3.scaleLinear([0,6],[100.5,675]);
 function lay(n){ if(typeof n==="number")return{pos:n+.5,h:0,kids:[]};const a=lay(n[1]),b=lay(n[2]);return{pos:(a.pos+b.pos)/2,h:n[0],kids:[a,b]};}
 const root=lay(colTree),p=[],H=d3.scaleLinear([0,90],[110.7,23]);
 (function walk(n){if(!n.kids.length)return;const[a,b]=n.kids;
   p.push(`M${colPos(a.pos)},${H(a.h)}L${colPos(a.pos)},${H(n.h)}L${colPos(b.pos)},${H(n.h)}L${colPos(b.pos)},${H(b.h)}`);walk(a);walk(b);})(root);
 hg.append("path").attr("d",p.join("")).attr("fill","none").attr("stroke","#1a1a1a").attr("stroke-width",1.4);}
// sample & group labels
const heatLabelX=[146,244,340,439,531,626];
samples.forEach((s,i)=>text(hg,heatLabelX[i],1164,s,{size:18}));
hg.append("line").attr("x1",102).attr("x2",385).attr("y1",1172.5).attr("y2",1172.5).attr("stroke","#111").attr("stroke-width",2.4);
hg.append("line").attr("x1",389).attr("x2",671.5).attr("y1",1172.5).attr("y2",1172.5).attr("stroke","#111").attr("stroke-width",2.4);
text(hg,234.5,1185.5,groupLabels[0],{size:20});
text(hg,522,1185.5,groupLabels[1],{size:20});

// === b ===
function profile(cfg){
  const g=svg.append("g");
  const x=d3.scalePoint(samples,cfg.xr), y=d3.scaleLinear([0,1],[cfg.y0,cfg.y0-cfg.unit]);
  const line=d3.line().x((d,i)=>x(samples[i])).y(d=>y(d));
  g.selectAll("path.g").data(cfg.lines).join("path").attr("d",line).attr("fill","none").attr("stroke","#dcdcdc").attr("stroke-width",1);
  g.append("path").attr("d",line(cfg.mean)).attr("fill","none").attr("stroke","#5a5af0").attr("stroke-width",1.3);
  g.selectAll("circle").data(cfg.mean).join("circle").attr("cx",(d,i)=>x(samples[i])).attr("cy",d=>y(d)).attr("r",2.4)
    .attr("fill","#aeb0f5").attr("stroke","#5a5af0").attr("stroke-width",.9);
  g.append("rect").attr("x",cfg.box[0]).attr("y",cfg.box[2]).attr("width",cfg.box[1]-cfg.box[0]).attr("height",cfg.box[3]-cfg.box[2]).attr("fill","none").attr("stroke","#808080").attr("stroke-width",1.5);
  const ax=g.append("g").attr("transform",`translate(0,${cfg.box[3]})`).call(d3.axisBottom(x).tickSize(5).tickPadding(3));
  ax.select(".domain").remove(); ax.selectAll("line").attr("stroke","#555");
  ax.selectAll("text").attr("font-size",11.8).attr("dx",4.5).attr("y",cfg.labY-cfg.box[3]).attr("dy",0).attr("dominant-baseline","central");
  const ay=g.append("g").attr("transform",`translate(${cfg.box[0]},0)`).call(d3.axisLeft(y).tickValues(cfg.ticks).tickSize(5).tickPadding(2).tickFormat(plain));
  ay.select(".domain").remove(); ay.selectAll("line").attr("stroke","#555");
  ay.selectAll("text").attr("font-size",12).attr("font-weight","bold");
  text(g,cfg.titleX,cfg.titleY,cfg.title,{size:16,bold:true});
  text(g,806.5,cfg.labMid,profileYLabel,{size:16.2,bold:true,rot:-90});
}
profile({xr:[853,1157],y0:166,unit:21.6,box:[841,1168,51,258],lines:clusterLines1,mean:clusterMean1,ticks:profileTicks1,labY:271,title:"Subcluster_1, 144 genes",titleX:1036.5,titleY:40,labMid:152.8});
profile({xr:[854,1158],y0:401,unit:43,box:[842,1169,313.5,520],lines:clusterLines2,mean:clusterMean2,ticks:profileTicks2,labY:531,title:"Subcluster_2, 44 genes",titleX:1032.5,titleY:301,labMid:416.5});

// === c ===
{const g=svg.append("g");
 const x=d3.scalePoint(samples,[842,1149]), y=d3.scaleLinear([0,1],[939,939-85.7]);
 const hw=23.2;
 g.append("path").attr("d","M805,587V1164H1208").attr("fill","none").attr("stroke","#b3b3b3").attr("stroke-width",2);
 const bx=g.append("g").selectAll("g").data(samples).join("g").attr("transform",d=>`translate(${x(d)},0)`);
 bx.append("line").attr("y1",(d,i)=>y(whiskerHigh[i])).attr("y2",(d,i)=>y(whiskerLow[i])).attr("stroke","#333").attr("stroke-width",1.6);
 bx.append("line").attr("y1",(d,i)=>y(whiskerHigh[i])).attr("y2",(d,i)=>y(outlierBandTop[i])).attr("stroke","#000").attr("stroke-width",6.4).attr("stroke-linecap","round");
 bx.append("rect").attr("x",-hw).attr("width",2*hw).attr("y",(d,i)=>y(boxQ3[i])).attr("height",(d,i)=>y(boxQ1[i])-y(boxQ3[i])).attr("fill",(d,i)=>boxColors[i]).attr("stroke","#333").attr("stroke-width",1.6);
 bx.append("line").attr("x1",-hw).attr("x2",hw).attr("y1",(d,i)=>y(boxMedian[i])).attr("y2",(d,i)=>y(boxMedian[i])).attr("stroke","#333").attr("stroke-width",3);
 g.selectAll("circle").data(outlierExtra).join("circle").attr("cx",d=>x(samples[d[0]])).attr("cy",d=>y(d[1])).attr("r",3.2).attr("fill","#000");
 const ax=g.append("g").attr("transform","translate(0,1164)").call(d3.axisBottom(x).tickSize(6).tickPadding(4));
 ax.select(".domain").remove(); ax.selectAll("line").attr("stroke","#333").attr("stroke-width",1.2);
 ax.selectAll("text").attr("font-size",11.5).attr("fill","#222");
 const ay=g.append("g").attr("transform","translate(805,0)").call(d3.axisLeft(y).tickValues(boxTicks).tickSize(5).tickPadding(4).tickFormat(plain));
 ay.select(".domain").remove(); ay.selectAll("line").attr("stroke","#333").attr("stroke-width",1.2);
 ay.selectAll("text").attr("font-size",15).attr("fill","#222");
 text(g,999,1201,"Sample",{size:16.5});
 text(g,771,875,"log10(FPKM)",{size:18,rot:-90});
 text(g,1225,782,"Sample",{size:12,anchor:"start"});
 samples.forEach((s,i)=>{
   const ky=808.5+i*26.3;
   g.append("rect").attr("x",1224.5).attr("y",ky-13).attr("width",26).attr("height",26).attr("fill","#f2f2f2").attr("stroke","#ccc").attr("stroke-width",1);
   g.append("line").attr("x1",1237.5).attr("x2",1237.5).attr("y1",ky-11).attr("y2",ky+11).attr("stroke","#333").attr("stroke-width",1.2);
   g.append("rect").attr("x",1227.5).attr("y",ky-7).attr("width",20.5).attr("height",14).attr("fill",boxColors[i]).attr("stroke","#333").attr("stroke-width",1.3);
   g.append("line").attr("x1",1227.5).attr("x2",1248).attr("y1",ky).attr("y2",ky).attr("stroke","#333").attr("stroke-width",1.2);
   text(g,1254,ky,s,{size:10.5,anchor:"start"});
 });
}

// === d, e ===
function scatter(cfg){
  const g=svg.append("g");
  const x=d3.scaleLinear([0,1],[cfg.x0,cfg.x0+cfg.ux]), y=d3.scaleLinear([0,1],[cfg.y0,cfg.y0-cfg.uy]);
  cfg.areas.forEach(a=>{
    g.append("path").attr("fill","#000").attr("d",d3.area().curve(d3.curveMonotoneX).x((d,i)=>x(a[0][i])).y0((d,i)=>y(a[2][i])).y1((d,i)=>y(a[1][i]))(a[0]));
  });
  const dots=(arr,c)=>g.append("g").selectAll("circle").data(pairs(arr)).join("circle").attr("cx",d=>x(d[0])).attr("cy",d=>y(d[1])).attr("r",1.55).attr("fill",c);
  cfg.other.forEach(a=>dots(a,"#000"));dots(cfg.up,"#f01414");dots(cfg.down,"#1ce61c");
  (cfg.cutX||[]).forEach(v=>g.append("line").attr("x1",x(v)).attr("x2",x(v)).attr("y1",cfg.box[2]).attr("y2",cfg.box[3]).attr("stroke","#6a6aff").attr("stroke-width",1.3).attr("stroke-dasharray","9 3"));
  (cfg.cutY||[]).forEach(v=>g.append("line").attr("x1",cfg.box[0]).attr("x2",cfg.box[1]).attr("y1",y(v)).attr("y2",y(v)).attr("stroke","#6a6aff").attr("stroke-width",1.3).attr("stroke-dasharray","9 3"));
  g.append("rect").attr("x",cfg.box[0]).attr("y",cfg.box[2]).attr("width",cfg.box[1]-cfg.box[0]).attr("height",cfg.box[3]-cfg.box[2]).attr("fill","none").attr("stroke","#333").attr("stroke-width",1.6);
  g.append("path").attr("d",`M${cfg.box[0]},${cfg.box[2]}V${cfg.box[3]}H${cfg.box[1]}`).attr("fill","none").attr("stroke","#111").attr("stroke-width",1.6);
  const ax=g.append("g").attr("transform",`translate(0,${cfg.box[3]})`).call(d3.axisBottom(x).tickValues(cfg.tx).tickSize(5).tickPadding(5).tickFormat(plain));
  ax.select(".domain").remove(); ax.selectAll("text").attr("font-size",16).attr("fill","#222");
  const ay=g.append("g").attr("transform",`translate(${cfg.box[0]},0)`).call(d3.axisLeft(y).tickValues(cfg.ty).tickSize(6).tickPadding(3).tickFormat(plain));
  ay.select(".domain").remove(); ay.selectAll("text").attr("font-size",16).attr("fill","#222");
  text(g,1604,cfg.titleY,cfg.title,{size:21});
  text(g,1604,cfg.xLabY,cfg.xLab,{size:18});
  text(g,cfg.yLabX,cfg.yLabY,cfg.yLab,{size:18,rot:-90});
  text(g,cfg.legX,cfg.legY,"Significant",{size:14.5,bold:true,anchor:"start"});
  legendLabels.forEach((s,i)=>{const ly=cfg.legY+24.5+i*25;
    g.append("circle").attr("cx",cfg.legX+13).attr("cy",ly).attr("r",1.6).attr("fill",["#f01414","#1ce61c","#000"][i]);
    text(g,cfg.legX+28,ly,s,{size:14,anchor:"start"});});
}
scatter({x0:1479,ux:23.6,y0:375.8,uy:29.9,box:[1417.5,1790.5,23,548.5],tx:maTicksX,ty:maTicksY,
  other:[maOther,maEdgeTop,maEdgeBottom,maLowerCore],up:maUp,down:maDown,areas:[[maCoreX,maCoreTop,maCoreBottom],[maClusterX,maClusterTop,maClusterBottom]],
  title:"MA plot",titleY:10,xLab:"log2(FPKM)",xLabY:582,yLab:"log2(FC)",yLabX:1382,yLabY:285,legX:1812,legY:245});
scatter({x0:1539.6,ux:21.26,y0:1146.3,uy:23.92,box:[1416.7,1790,644,1169.4],tx:voTicksX,ty:voTicksY,
  other:[voOther,voEdge],up:voUp,down:voDown,areas:[[voCoreX,voCoreTop,voCoreBottom]],cutX:voCutX,cutY:voCutY,
  title:"Volcano plot",titleY:631,xLab:"log2(FC)",xLabY:1203,yLab:"-log10(FDR)",yLabX:1380,yLabY:907,legX:1811,legY:866});
</script></body></html>
